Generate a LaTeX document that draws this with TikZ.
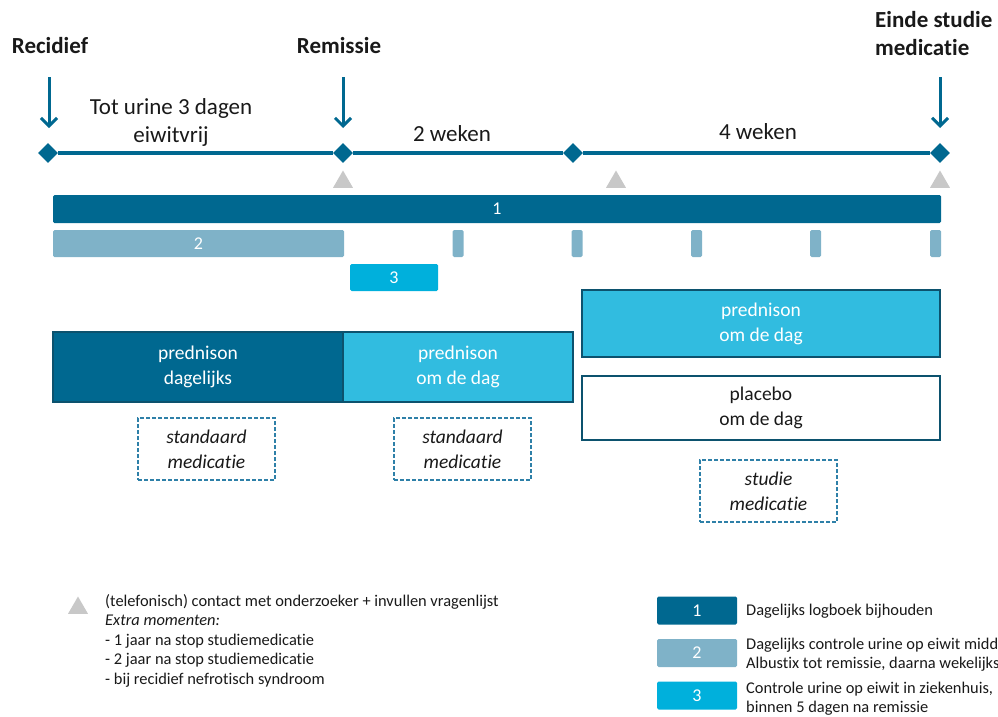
\documentclass[tikz,border=0pt]{standalone}
\usepackage{fontspec}
\setmainfont[Ligatures=NoCommon]{Carlito}
\usepackage{tikz}
\usetikzlibrary{arrows.meta, shapes.geometric, positioning}

\definecolor{zeeblauw}{RGB}{0,104,144}
\definecolor{randblauw}{RGB}{12,82,110}
\definecolor{grijsblauw}{RGB}{127,178,200}
\definecolor{helderblauw}{RGB}{0,176,220}
\definecolor{lichtblauw}{RGB}{49,188,224}
\definecolor{stippel}{RGB}{46,128,168}
\definecolor{grijs}{RGB}{200,200,200}
\definecolor{tekst}{RGB}{25,25,25}

\begin{document}
\begin{tikzpicture}[x=1pt, y=-1pt, >={Straight Barb[length=8pt, width=16pt]},
    kop/.style={font=\fontsize{23}{28}\selectfont\bfseries, text=tekst, inner sep=0pt},
    duur/.style={font=\fontsize{23}{28}\selectfont, text=tekst, inner sep=0pt, align=center},
    pijl/.style={->, draw=zeeblauw, line width=3pt},
    punt/.style={diamond, fill=zeeblauw, minimum size=20, inner sep=0pt},
    contact/.style={regular polygon, regular polygon sides=3, fill=grijs, minimum size=23, inner sep=0pt},
    balk/.style={rounded corners=1.5pt, inner sep=0pt, text=white, font=\fontsize{18}{20}\selectfont},
    medbox/.style={draw=randblauw, line width=2.5pt, inner sep=0pt, align=center,
      font=\fontsize{19.5}{25}\selectfont},
    stipbox/.style={draw=stippel, dash pattern=on 4pt off 2pt, line width=1.2pt, minimum width=137, minimum height=62,
      inner sep=0pt, align=center, text=tekst, font=\fontsize{19.5}{25}\selectfont\itshape},
    legtekst/.style={anchor=west, inner sep=0pt, align=left, text=tekst, font=\fontsize{16.4}{19.5}\selectfont}]
  \clip (0,0) rectangle (998,717);

  % tijdlijn
  \node[punt] (d1) at (48,153) {};
  \node[punt] (d2) at (343,153) {};
  \node[punt] (d3) at (573,153) {};
  \node[punt] (d4) at (940,153) {};
  \draw[zeeblauw, line width=3.5pt] (d1) -- (d2) -- (d3) -- (d4);

  \node[kop] (recidief) at (50,46) {Recidief};
  \node[kop] (remissie) at (339,46) {Remissie};
  \node[kop, anchor=west, align=left] (einde) at (875,34) {Einde studie\\medicatie};
  \coordinate (p1a) at (49,77);  \coordinate (p1b) at (49,128);
  \coordinate (p2a) at (343,77); \coordinate (p2b) at (343,128);
  \coordinate (p3a) at (940,77); \coordinate (p3b) at (940,128);
  \draw[pijl] (p1a) -- (p1b);
  \draw[pijl] (p2a) -- (p2b);
  \draw[pijl] (p3a) -- (p3b);

  \node[duur] (fase1) at (171,122) {Tot urine 3 dagen\\eiwitvrij};
  \node[duur] (fase2) at (452,134) {2 weken};
  \node[duur] (fase3) at (758,132) {4 weken};

  \node[contact] (c1) at (343,182) {};
  \node[contact] (c2) at (616,182) {};
  \node[contact] (c3) at (940,182) {};

  % balken
  \node[balk, fill=zeeblauw, minimum width=888, minimum height=28] (bar1) at (497,209) {1};
  \node[balk, fill=grijsblauw, minimum width=291, minimum height=27] (bar2) at (198.5,243.5) {2};
  \foreach \x [count=\i] in {458,577,696.5,815.5,935.5}
    \node[balk, fill=grijsblauw, minimum width=11, minimum height=27] (week\i) at (\x,243.5) {};
  \node[balk, fill=helderblauw, minimum width=88, minimum height=27] (bar3) at (394,277.5) {3};

  % medicatie
  \node[medbox, fill=zeeblauw, text=white, minimum width=290, minimum height=70] (preddag) at (198,367) {prednison\\dagelijks};
  \node[medbox, fill=lichtblauw, text=white, minimum width=230, minimum height=70] (predom) at (458,367) {prednison\\om de dag};
  \node[medbox, fill=lichtblauw, text=white, minimum width=358, minimum height=67] (predstudie) at (761,323.5) {prednison\\om de dag};
  \node[medbox, fill=white, text=tekst, minimum width=358, minimum height=64] (placebo) at (761,408) {placebo\\om de dag};

  \node[stipbox] (standaard1) at (206.5,449) {standaard\\medicatie};
  \node[stipbox] (standaard2) at (462.5,449) {standaard\\medicatie};
  \node[stipbox] (studie) at (768.5,491) {studie\\medicatie};

  % legenda
  \node[contact] (legc) at (78,608) {};
  \node[legtekst, anchor=north west] (legctekst) at (105,594) {(telefonisch) contact met onderzoeker + invullen vragenlijst\\
    \textit{Extra momenten:}\\- 1 jaar na stop studiemedicatie\\- 2 jaar na stop studiemedicatie\\- bij recidief nefrotisch syndroom};

  \node[balk, fill=zeeblauw, minimum width=80, minimum height=28] (leg1) at (697,610.5) {1};
  \node[balk, fill=grijsblauw, minimum width=80, minimum height=28] (leg2) at (697,653) {2};
  \node[balk, fill=helderblauw, minimum width=80, minimum height=28] (leg3) at (697,695.5) {3};
  \node[legtekst] (leg1tekst) at (746,611) {Dagelijks logboek bijhouden};
  \node[legtekst] (leg2tekst) at (746,654.5) {Dagelijks controle urine op eiwit middels\\Albustix tot remissie, daarna wekelijks};
  \node[legtekst] (leg3tekst) at (746,698.5) {Controle urine op eiwit in ziekenhuis,\\binnen 5 dagen na remissie};
\end{tikzpicture}
\end{document}
